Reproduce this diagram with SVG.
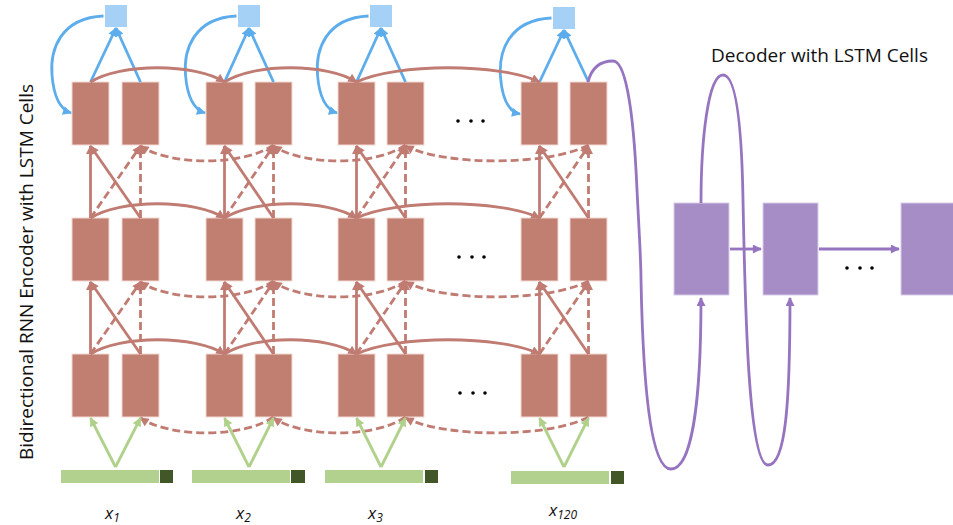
<svg xmlns="http://www.w3.org/2000/svg" width="953" height="525" viewBox="0 0 953 525">
<style>
.cell{fill:#C17F71;stroke:#F2DAD4;stroke-width:1}
.dec{fill:#A68DC6;stroke:#D9CCEA;stroke-width:1}
.out{fill:#A6D1F6}
.bar{fill:#B3D18E}
.bard{fill:#425728}
.r{fill:none;stroke:#C07B72;stroke-width:2.8}
.rd{fill:none;stroke:#C07B72;stroke-width:2.8;stroke-dasharray:8 4}
.b{fill:none;stroke:#5DADEC;stroke-width:2.8}
.g{fill:none;stroke:#B0D18A;stroke-width:2.8}
.p{fill:none;stroke:#9674C0;stroke-width:2.8}
.dot{fill:#000}
.t{font-family:'Open Sans','DejaVu Sans',sans-serif;font-size:19px;fill:#111}
.lab{font-family:'Open Sans','DejaVu Sans',sans-serif;font-style:italic;font-size:17px;fill:#111}
</style>
<defs>
<marker id="ar" viewBox="0 0 10 10" refX="9" refY="5" markerWidth="10" markerHeight="9" markerUnits="userSpaceOnUse" orient="auto"><path d="M0,0 L10,5 L0,10 z" fill="#C07B72"/></marker>
<marker id="ab" viewBox="0 0 10 10" refX="9" refY="5" markerWidth="10" markerHeight="9" markerUnits="userSpaceOnUse" orient="auto"><path d="M0,0 L10,5 L0,10 z" fill="#5DADEC"/></marker>
<marker id="ag" viewBox="0 0 10 10" refX="9" refY="5" markerWidth="10" markerHeight="9" markerUnits="userSpaceOnUse" orient="auto"><path d="M0,0 L10,5 L0,10 z" fill="#B0D18A"/></marker>
<marker id="ap" viewBox="0 0 10 10" refX="9" refY="5" markerWidth="10" markerHeight="9" markerUnits="userSpaceOnUse" orient="auto"><path d="M0,0 L10,5 L0,10 z" fill="#9674C0"/></marker>
</defs>

<!-- output squares -->
<g id="out1"><rect class="out" x="105" y="5" width="22" height="22"/></g>
<g id="out2"><rect class="out" x="238" y="5" width="22" height="22"/></g>
<g id="out3"><rect class="out" x="370" y="5" width="22" height="22"/></g>
<g id="out4"><rect class="out" x="553" y="7" width="22" height="22"/></g>

<!-- encoder cells row 1 -->
<g id="c1r1f"><rect class="cell" x="72" y="82" width="37" height="63"/></g>
<g id="c1r1b"><rect class="cell" x="122" y="82" width="37" height="63"/></g>
<g id="c2r1f"><rect class="cell" x="206" y="82" width="37" height="63"/></g>
<g id="c2r1b"><rect class="cell" x="255" y="82" width="37" height="63"/></g>
<g id="c3r1f"><rect class="cell" x="338" y="82" width="37" height="63"/></g>
<g id="c3r1b"><rect class="cell" x="387" y="82" width="37" height="63"/></g>
<g id="c4r1f"><rect class="cell" x="521" y="82" width="37" height="63"/></g>
<g id="c4r1b"><rect class="cell" x="570" y="82" width="37" height="63"/></g>
<!-- row 2 -->
<g id="c1r2f"><rect class="cell" x="72" y="218" width="37" height="63"/></g>
<g id="c1r2b"><rect class="cell" x="122" y="218" width="37" height="63"/></g>
<g id="c2r2f"><rect class="cell" x="206" y="218" width="37" height="63"/></g>
<g id="c2r2b"><rect class="cell" x="255" y="218" width="37" height="63"/></g>
<g id="c3r2f"><rect class="cell" x="338" y="218" width="37" height="63"/></g>
<g id="c3r2b"><rect class="cell" x="387" y="218" width="37" height="63"/></g>
<g id="c4r2f"><rect class="cell" x="521" y="218" width="37" height="63"/></g>
<g id="c4r2b"><rect class="cell" x="570" y="218" width="37" height="63"/></g>
<!-- row 3 -->
<g id="c1r3f"><rect class="cell" x="72" y="354" width="37" height="63"/></g>
<g id="c1r3b"><rect class="cell" x="122" y="354" width="37" height="63"/></g>
<g id="c2r3f"><rect class="cell" x="206" y="354" width="37" height="63"/></g>
<g id="c2r3b"><rect class="cell" x="255" y="354" width="37" height="63"/></g>
<g id="c3r3f"><rect class="cell" x="338" y="354" width="37" height="63"/></g>
<g id="c3r3b"><rect class="cell" x="387" y="354" width="37" height="63"/></g>
<g id="c4r3f"><rect class="cell" x="521" y="354" width="37" height="63"/></g>
<g id="c4r3b"><rect class="cell" x="570" y="354" width="37" height="63"/></g>

<!-- inputs -->
<g id="in1"><rect class="bar" x="61" y="470" width="98" height="13"/><rect class="bard" x="160" y="470" width="13" height="13"/></g>
<g id="in2"><rect class="bar" x="192" y="470" width="98" height="13"/><rect class="bard" x="291" y="470" width="14" height="13"/></g>
<g id="in3"><rect class="bar" x="325" y="470" width="98" height="13"/><rect class="bard" x="425" y="470" width="13" height="13"/></g>
<g id="in4"><rect class="bar" x="511" y="471" width="98" height="13"/><rect class="bard" x="611" y="471" width="13" height="13"/></g>

<!-- decoder -->
<g id="d1"><rect class="dec" x="674" y="203" width="55" height="92"/></g>
<g id="d2"><rect class="dec" x="763" y="203" width="55" height="92"/></g>
<g id="d3"><rect class="dec" x="901" y="203" width="55" height="92"/></g>

<!-- dots -->
<g id="dots">
<circle class="dot" cx="458" cy="121" r="1.8"/><circle class="dot" cx="471" cy="121" r="1.8"/><circle class="dot" cx="483" cy="121" r="1.8"/>
<circle class="dot" cx="459" cy="257" r="1.8"/><circle class="dot" cx="472" cy="257" r="1.8"/><circle class="dot" cx="484" cy="257" r="1.8"/>
<circle class="dot" cx="460" cy="393" r="1.8"/><circle class="dot" cx="473" cy="393" r="1.8"/><circle class="dot" cx="485" cy="393" r="1.8"/>
<circle class="dot" cx="847" cy="268" r="1.8"/><circle class="dot" cx="860" cy="268" r="1.8"/><circle class="dot" cx="872" cy="268" r="1.8"/>
</g>

<g id="connectors">
<!-- blue outputs -->
<path class="b" d="M90.5,82 L116,28" marker-end="url(#ab)"/>
<path class="b" d="M140.5,82 L116,28" marker-end="url(#ab)"/>
<path class="b" d="M224.5,82 L249,28" marker-end="url(#ab)"/>
<path class="b" d="M273.5,82 L249,28" marker-end="url(#ab)"/>
<path class="b" d="M356.5,82 L381,28" marker-end="url(#ab)"/>
<path class="b" d="M405.5,82 L381,28" marker-end="url(#ab)"/>
<path class="b" d="M539.5,82 L564,30" marker-end="url(#ab)"/>
<path class="b" d="M588.5,82 L564,30" marker-end="url(#ab)"/>
<!-- blue feedback -->
<path class="b" d="M103.5,16 C60,18 50,50 52,75 C54,100 62,110 71,113" marker-end="url(#ab)"/>
<path class="b" d="M236.5,16 C193.5,18 183.5,50 185.5,75 C187.5,100 195.5,110 205,113" marker-end="url(#ab)"/>
<path class="b" d="M368.5,16 C325.5,18 315.5,50 317.5,75 C319.5,100 327.5,110 337,113" marker-end="url(#ab)"/>
<path class="b" d="M551.5,18 C508.5,20 498.5,52 500.5,77 C502.5,102 510.5,112 520,114" marker-end="url(#ab)"/>

<!-- forward solid curves -->
<path class="r" d="M90.5,82 C120,63 195,63 224.5,82" marker-end="url(#ar)"/>
<path class="r" d="M224.5,82 C254,63 327,63 356.5,82" marker-end="url(#ar)"/>
<path class="r" d="M356.5,82 C396,63 500,63 539.5,82" marker-end="url(#ar)"/>
<path class="r" d="M90.5,218 C120,199 195,199 224.5,218" marker-end="url(#ar)"/>
<path class="r" d="M224.5,218 C254,199 327,199 356.5,218" marker-end="url(#ar)"/>
<path class="r" d="M356.5,218 C396,199 500,199 539.5,218" marker-end="url(#ar)"/>
<path class="r" d="M90.5,354 C120,335 195,335 224.5,354" marker-end="url(#ar)"/>
<path class="r" d="M224.5,354 C254,335 327,335 356.5,354" marker-end="url(#ar)"/>
<path class="r" d="M356.5,354 C396,335 500,335 539.5,354" marker-end="url(#ar)"/>

<!-- backward dashed curves -->
<path class="rd" d="M273.5,145 C244,166 170,166 140.5,146" marker-end="url(#ar)"/>
<path class="rd" d="M405.5,145 C376,166 303,166 273.5,146" marker-end="url(#ar)"/>
<path class="rd" d="M588.5,145 C549,166 445,166 405.5,146" marker-end="url(#ar)"/>
<path class="rd" d="M273.5,281 C244,302 170,302 140.5,282" marker-end="url(#ar)"/>
<path class="rd" d="M405.5,281 C376,302 303,302 273.5,282" marker-end="url(#ar)"/>
<path class="rd" d="M588.5,281 C549,302 445,302 405.5,282" marker-end="url(#ar)"/>
<path class="rd" d="M273.5,417 C244,438 170,438 140.5,418" marker-end="url(#ar)"/>
<path class="rd" d="M405.5,417 C376,438 303,438 273.5,418" marker-end="url(#ar)"/>
<path class="rd" d="M588.5,417 C549,438 445,438 405.5,418" marker-end="url(#ar)"/>

<!-- vertical connections rows 2->1 -->
<path class="r" d="M90.5,218 L90.5,146" marker-end="url(#ar)"/>
<path class="r" d="M140.5,218 L90.5,146" marker-end="url(#ar)"/>
<path class="rd" d="M90.5,218 L140.5,146" marker-end="url(#ar)"/>
<path class="rd" d="M140.5,218 L140.5,146" marker-end="url(#ar)"/>
<path class="r" d="M224.5,218 L224.5,146" marker-end="url(#ar)"/>
<path class="r" d="M273.5,218 L224.5,146" marker-end="url(#ar)"/>
<path class="rd" d="M224.5,218 L273.5,146" marker-end="url(#ar)"/>
<path class="rd" d="M273.5,218 L273.5,146" marker-end="url(#ar)"/>
<path class="r" d="M356.5,218 L356.5,146" marker-end="url(#ar)"/>
<path class="r" d="M405.5,218 L356.5,146" marker-end="url(#ar)"/>
<path class="rd" d="M356.5,218 L405.5,146" marker-end="url(#ar)"/>
<path class="rd" d="M405.5,218 L405.5,146" marker-end="url(#ar)"/>
<path class="r" d="M539.5,218 L539.5,146" marker-end="url(#ar)"/>
<path class="r" d="M588.5,218 L539.5,146" marker-end="url(#ar)"/>
<path class="rd" d="M539.5,218 L588.5,146" marker-end="url(#ar)"/>
<path class="rd" d="M588.5,218 L588.5,146" marker-end="url(#ar)"/>
<!-- rows 3->2 -->
<path class="r" d="M90.5,354 L90.5,282" marker-end="url(#ar)"/>
<path class="r" d="M140.5,354 L90.5,282" marker-end="url(#ar)"/>
<path class="rd" d="M90.5,354 L140.5,282" marker-end="url(#ar)"/>
<path class="rd" d="M140.5,354 L140.5,282" marker-end="url(#ar)"/>
<path class="r" d="M224.5,354 L224.5,282" marker-end="url(#ar)"/>
<path class="r" d="M273.5,354 L224.5,282" marker-end="url(#ar)"/>
<path class="rd" d="M224.5,354 L273.5,282" marker-end="url(#ar)"/>
<path class="rd" d="M273.5,354 L273.5,282" marker-end="url(#ar)"/>
<path class="r" d="M356.5,354 L356.5,282" marker-end="url(#ar)"/>
<path class="r" d="M405.5,354 L356.5,282" marker-end="url(#ar)"/>
<path class="rd" d="M356.5,354 L405.5,282" marker-end="url(#ar)"/>
<path class="rd" d="M405.5,354 L405.5,282" marker-end="url(#ar)"/>
<path class="r" d="M539.5,354 L539.5,282" marker-end="url(#ar)"/>
<path class="r" d="M588.5,354 L539.5,282" marker-end="url(#ar)"/>
<path class="rd" d="M539.5,354 L588.5,282" marker-end="url(#ar)"/>
<path class="rd" d="M588.5,354 L588.5,282" marker-end="url(#ar)"/>

<!-- green inputs -->
<path class="g" d="M115.5,467 L90.5,418" marker-end="url(#ag)"/>
<path class="g" d="M115.5,467 L140.5,418" marker-end="url(#ag)"/>
<path class="g" d="M249,467 L224.5,418" marker-end="url(#ag)"/>
<path class="g" d="M249,467 L273.5,418" marker-end="url(#ag)"/>
<path class="g" d="M381,467 L356.5,418" marker-end="url(#ag)"/>
<path class="g" d="M381,467 L405.5,418" marker-end="url(#ag)"/>
<path class="g" d="M564,467 L539.5,418" marker-end="url(#ag)"/>
<path class="g" d="M564,467 L588.5,418" marker-end="url(#ag)"/>

<!-- purple -->
<path class="p" d="M588,82 C592,66 602,61 613,61 C627,61 634,120 637,190 C639,230 641,260 641,280 C643,380 650,469 671,469 C692,469 701,400 701,298" marker-end="url(#ap)"/>
<path class="p" d="M701,203 C701,140 708,75 723,75 C738,75 742,140 743,200 C745,300 748,465 768,465 C786,465 790,400 790,298" marker-end="url(#ap)"/>
<path class="p" d="M730,249 L761,249" marker-end="url(#ap)"/>
<path class="p" d="M819,249 L899,249" marker-end="url(#ap)"/>
</g>

<!-- labels -->
<text class="t" x="711" y="62">Decoder with LSTM Cells</text>
<text class="t" transform="translate(33,272) rotate(-90)" text-anchor="middle">Bidirectional RNN Encoder with LSTM Cells</text>
<text class="lab" x="105" y="519">x<tspan font-size="12" dy="3">1</tspan></text>
<text class="lab" x="236" y="519">x<tspan font-size="12" dy="3">2</tspan></text>
<text class="lab" x="368" y="519">x<tspan font-size="12" dy="3">3</tspan></text>
<text class="lab" x="549" y="516">x<tspan font-size="12" dy="3">120</tspan></text>
</svg>
